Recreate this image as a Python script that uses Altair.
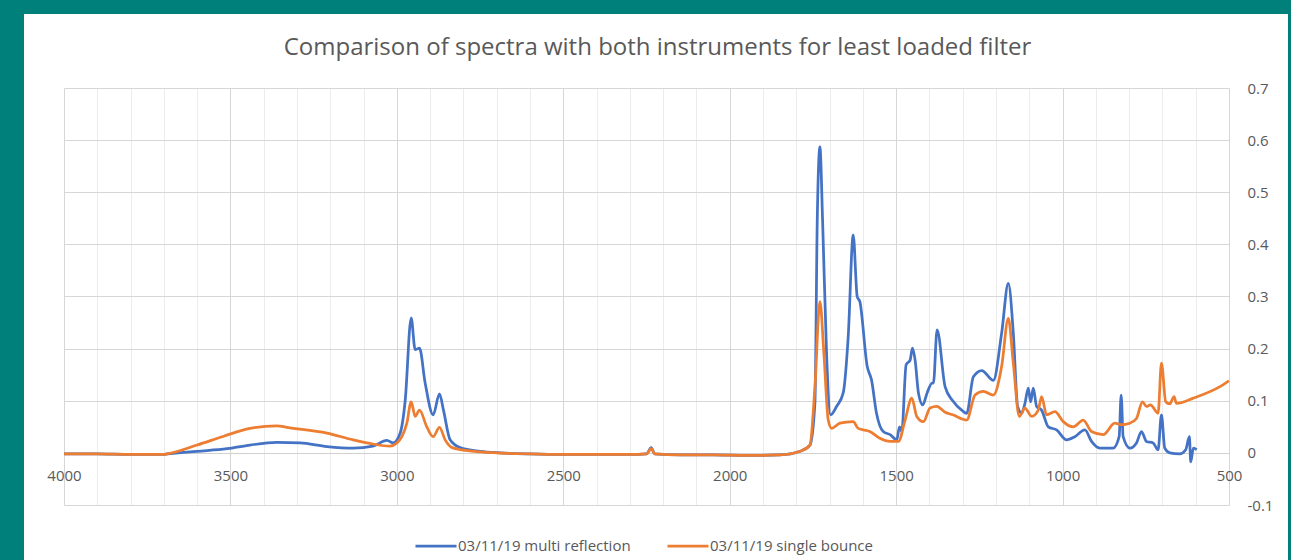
import altair as alt
import pandas as pd

# ---- data ----
multi_wn = [4000, 3900, 3800, 3700, 3690, 3600, 3510, 3441, 3360, 3291, 3210, 3131, 3072, 3030, 3011,
            2990, 2975, 2957, 2945, 2932, 2915, 2891, 2872, 2860, 2840, 2810, 2750, 2690, 2600, 2500,
            2400, 2300, 2250, 2236, 2225, 2150, 2050, 1950, 1849, 1789, 1759, 1744, 1737, 1729, 1721,
            1709, 1697, 1679, 1659, 1644, 1629, 1617, 1609, 1587, 1574, 1559, 1539, 1518, 1498, 1490,
            1483, 1470, 1458, 1451, 1443, 1433, 1420, 1407, 1392, 1388, 1377, 1353, 1330, 1303, 1288,
            1268, 1243, 1208, 1183, 1163, 1148, 1135, 1123, 1113, 1103, 1096, 1088, 1078, 1063, 1043,
            1018, 988, 963, 933, 913, 888, 848, 830, 824, 818, 798, 778, 763, 748, 728, 713, 703, 693,
            678, 648, 630, 619, 615, 607, 597]
multi_abs = [-0.002, -0.002, -0.003, -0.003, -0.002, 0.003, 0.008, 0.015, 0.02, 0.019, 0.012, 0.009, 0.013, 0.024, 0.019,
             0.038, 0.10, 0.259, 0.198, 0.201, 0.134, 0.073, 0.113, 0.082, 0.025, 0.010, 0.003, 0.0, -0.002, -0.003,
             -0.003, -0.003, -0.002, 0.010, -0.002, -0.004, -0.004, -0.005, -0.004, 0.003, 0.015, 0.096, 0.447, 0.587, 0.447,
             0.19, 0.073, 0.089, 0.115, 0.223, 0.418, 0.30, 0.29, 0.166, 0.14, 0.076, 0.041, 0.035, 0.025, 0.050,
             0.041, 0.169, 0.178, 0.201, 0.178, 0.115, 0.092, 0.115, 0.134, 0.134, 0.236, 0.127, 0.10, 0.082, 0.076,
             0.146, 0.158, 0.139, 0.23, 0.325, 0.23, 0.089, 0.076, 0.095, 0.124, 0.098, 0.124, 0.089, 0.082, 0.050,
             0.044, 0.025, 0.031, 0.044, 0.022, 0.009, 0.009, 0.031, 0.111, 0.031, 0.009, 0.019, 0.041, 0.022, 0.019, 0.006, 0.073, 0.009,
             0.0, -0.002, 0.006, 0.031, -0.017, 0.009, 0.006]

single_wn = [4000, 3900, 3800, 3700, 3690, 3600, 3520, 3441, 3360, 3330, 3210, 3131, 3072, 3021, 3000,
             2985, 2970, 2957, 2945, 2932, 2910, 2891, 2872, 2855, 2830, 2750, 2600, 2500, 2400, 2300,
             2250, 2236, 2225, 2150, 2050, 1950, 1849, 1789, 1759, 1744, 1729, 1717, 1704, 1694, 1669,
             1629, 1614, 1579, 1549, 1518, 1493, 1473, 1453, 1438, 1418, 1398, 1378, 1353, 1330, 1288,
             1263, 1238, 1208, 1183, 1163, 1148, 1130, 1113, 1093, 1073, 1063, 1048, 1023, 998, 968,
             938, 913, 878, 843, 823, 798, 778, 760, 748, 736, 713, 703, 690, 678, 665, 658, 607, 527, 500]
single_abs = [-0.002, -0.002, -0.003, -0.003, -0.002, 0.015, 0.032, 0.047, 0.052, 0.049, 0.038, 0.025, 0.017, 0.013, 0.019,
              0.031, 0.057, 0.098, 0.070, 0.082, 0.050, 0.031, 0.049, 0.025, 0.009, 0.002, -0.002, -0.003, -0.003, -0.003,
              -0.002, 0.008, -0.002, -0.004, -0.004, -0.005, -0.004, 0.003, 0.015, 0.127, 0.29, 0.19, 0.063, 0.047, 0.057,
              0.060, 0.047, 0.041, 0.028, 0.022, 0.022, 0.063, 0.105, 0.07, 0.06, 0.086, 0.089, 0.078, 0.073, 0.063,
              0.111, 0.118, 0.111, 0.166, 0.258, 0.172, 0.07, 0.086, 0.07, 0.082, 0.108, 0.073, 0.079, 0.06, 0.050,
              0.063, 0.041, 0.035, 0.057, 0.054, 0.057, 0.066, 0.098, 0.089, 0.092, 0.076, 0.172, 0.098, 0.094, 0.108, 0.095, 0.105, 0.127, 0.138]

series_names = ["03/11/19 multi reflection", "03/11/19 single bounce"]
series_colors = ["#4472C4", "#ED7D31"]
x_ticks = list(range(500, 4001, 100))
y_ticks = [-0.1, 0.0, 0.1, 0.2, 0.3, 0.4, 0.5, 0.6, 0.7]
title_text = "Comparison of spectra with both instruments for least loaded filter"

df = pd.concat([
    pd.DataFrame({"wn": multi_wn, "abs": multi_abs, "series": series_names[0]}),
    pd.DataFrame({"wn": single_wn, "abs": single_abs, "series": series_names[1]}),
], ignore_index=True)

W, H = 1165, 417
TEAL = "#00807A"
FONT = "Open Sans"
GREY = "#595959"

lines = alt.Chart(df).mark_line(strokeWidth=2.75, interpolate="monotone").encode(
    x=alt.X("wn:Q",
            scale=alt.Scale(domain=[4000, 500], nice=False, zero=False),
            axis=alt.Axis(values=x_ticks, title=None, offset=-52, ticks=False,
                          labelExpr="datum.value % 500 === 0 ? '' + datum.value : ''",
                          labelFlush=False, labelOverlap=False, labelPadding=15,
                          labelFont=FONT, labelFontSize=15, labelColor=GREY,
                          domainColor="#d0d0d0", domainWidth=1,
                          grid=True,
                          gridColor={"condition": {"test": "datum.value % 500 === 0", "value": "#d6d6d6"},
                                     "value": "#ececec"})),
    y=alt.Y("abs:Q",
            scale=alt.Scale(domain=[-0.1, 0.7], nice=False, zero=False),
            axis=alt.Axis(orient="right", values=y_ticks, title=None, ticks=False, domain=False,
                          labelExpr="'' + round(datum.value * 10) / 10",
                          labelPadding=18, labelFont=FONT, labelFontSize=15, labelColor=GREY,
                          gridColor="#d6d6d6")),
    color=alt.Color("series:N",
                    scale=alt.Scale(domain=series_names, range=series_colors),
                    legend=alt.Legend(title=None, orient="none", direction="horizontal",
                                      legendX=350, legendY=436, symbolType="stroke",
                                      symbolSize=1681, symbolStrokeWidth=2.75, labelOffset=0,
                                      columnPadding=31, padding=0, labelLimit=0,
                                      labelFont=FONT, labelFontSize=15, labelColor=GREY)),
)

one = pd.DataFrame({"k": [0]})
title_mark = alt.Chart(one).mark_text(font=FONT, fontSize=24, color=GREY, align="center",
                                      baseline="middle").encode(
    x=alt.value(W / 2 + 11), y=alt.value(-40), text=alt.value(title_text))
frame_left = alt.Chart(one).mark_rect(color=TEAL).encode(
    x=alt.value(-64), x2=alt.value(-40), y=alt.value(-88), y2=alt.value(H + 55))
frame_top = alt.Chart(one).mark_rect(color=TEAL).encode(
    x=alt.value(-64), x2=alt.value(W + 62), y=alt.value(-88), y2=alt.value(-74))
frame_right = alt.Chart(one).mark_rect(color=TEAL).encode(
    x=alt.value(W + 59), x2=alt.value(W + 62), y=alt.value(-88), y2=alt.value(H + 55))

chart = alt.layer(lines, title_mark, frame_left, frame_top, frame_right).properties(
    width=W, height=H,
    autosize=alt.AutoSizeParams(type="none"),
    padding={"left": 64, "top": 88, "right": 62, "bottom": 55},
    background="white",
).configure_view(stroke=None)

chart.save("out.html", embed_options={"renderer": "svg", "actions": False})
